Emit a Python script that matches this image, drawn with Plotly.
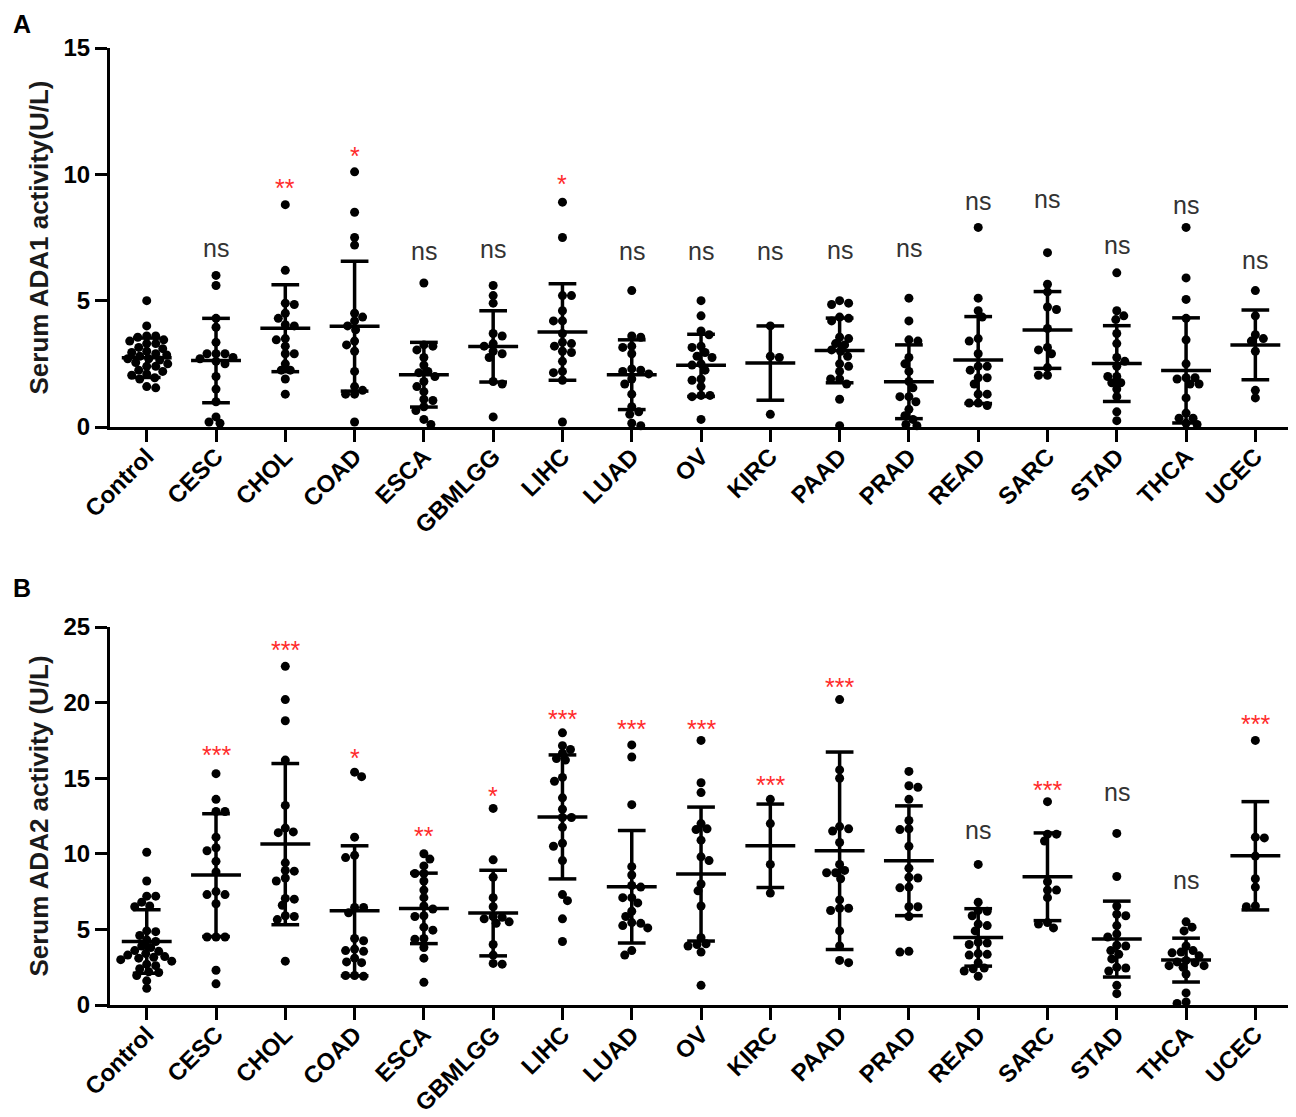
import plotly.graph_objects as go

categories = ["Control", "CESC", "CHOL", "COAD", "ESCA", "GBMLGG", "LIHC", "LUAD", "OV",
              "KIRC", "PAAD", "PRAD", "READ", "SARC", "STAD", "THCA", "UCEC"]

# ---- panel A: serum ADA1 activity (U/L) ----
a_control = [5.0, 4.0, 3.6, 3.6, 3.55, 3.45, 3.4, 3.3, 3.3, 3.15, 3.1, 3.0, 2.95, 2.9, 2.85, 2.8,
             2.7, 2.7, 2.65, 2.55, 2.5, 2.4, 2.4, 2.25, 2.2, 2.1, 2.05, 1.95, 1.9, 1.6, 1.55]
a_cesc = [6.0, 5.6, 4.3, 3.95, 3.35, 2.9, 2.9, 2.9, 2.75, 2.7, 2.6, 2.5, 2.0, 1.5, 1.0, 0.4, 0.2, 0.15]
a_chol = [8.8, 6.2, 4.9, 4.85, 4.5, 4.3, 4.05, 4.0, 3.5, 3.45, 3.2, 2.9, 2.9, 2.5, 2.25, 2.25, 1.9, 1.3]
a_coad = [10.1, 8.5, 7.5, 7.2, 4.5, 4.35, 4.2, 4.0, 3.85, 3.4, 3.25, 3.0, 2.2, 1.6, 1.45, 1.3, 1.3, 0.2]
a_esca = [5.7, 3.25, 3.2, 3.05, 2.75, 2.45, 2.2, 2.15, 2.0, 1.8, 1.6, 1.4, 1.1, 1.05, 0.8, 0.65, 0.3, 0.1]
a_gbmlgg = [5.6, 5.2, 4.9, 3.7, 3.6, 3.3, 3.2, 3.0, 2.9, 2.75, 1.8, 1.7, 0.4]
a_lihc = [8.9, 7.5, 5.2, 5.2, 4.6, 4.2, 4.2, 3.7, 3.35, 3.3, 3.2, 3.0, 2.95, 2.6, 2.2, 2.15, 1.85, 0.2]
a_luad = [5.4, 3.6, 3.55, 3.2, 3.15, 2.9, 2.3, 2.25, 2.2, 2.1, 1.9, 1.7, 1.3, 0.8, 0.6, 0.5, 0.15, 0.05]
a_ov = [5.0, 4.4, 3.8, 3.65, 3.2, 3.15, 2.95, 2.8, 2.75, 2.5, 2.45, 2.25, 1.9, 1.85, 1.6, 1.25, 1.25, 1.2, 0.3]
a_kirc = [4.0, 2.8, 2.75, 0.5]
a_paad = [5.0, 4.9, 4.85, 4.35, 4.3, 4.2, 3.55, 3.5, 3.3, 3.25, 3.05, 3.0, 2.8, 2.5, 2.4, 2.2, 1.9, 1.9,
          1.7, 1.1, 0.05]
a_prad = [5.1, 4.2, 3.45, 3.4, 2.75, 2.5, 2.2, 1.8, 1.55, 1.2, 1.2, 1.0, 0.7, 0.45, 0.3, 0.1, 0.05]
a_read = [7.9, 5.1, 4.6, 4.35, 3.5, 3.4, 2.9, 2.4, 2.4, 2.25, 1.95, 1.95, 1.7, 1.3, 1.3, 0.95, 0.95, 0.85]
a_sarc = [6.9, 5.65, 5.35, 4.75, 4.65, 3.9, 3.15, 3.05, 2.9, 2.35, 2.05, 2.05]
a_stad = [6.1, 4.6, 4.4, 4.25, 3.7, 3.3, 2.75, 2.6, 2.4, 2.0, 2.0, 1.75, 1.75, 1.5, 1.2, 0.6, 0.25]
a_thca = [7.9, 5.9, 5.05, 4.3, 3.45, 2.5, 1.95, 1.95, 1.9, 1.7, 1.7, 1.15, 0.55, 0.35, 0.35, 0.15, 0.1]
a_ucec = [5.4, 4.4, 3.65, 3.5, 3.4, 3.0, 1.45, 1.15]

a_mean = [2.74, 2.63, 3.91, 3.99, 2.07, 3.19, 3.76, 2.07, 2.44, 2.53, 3.03, 1.79, 2.65, 3.84, 2.51, 2.24, 3.25]
a_sd = [0.78, 1.67, 1.72, 2.57, 1.28, 1.41, 1.91, 1.38, 1.23, 1.47, 1.28, 1.46, 1.72, 1.52, 1.50, 2.08, 1.38]
a_sig = ["", "ns", "**", "*", "ns", "ns", "*", "ns", "ns", "ns", "ns", "ns", "ns", "ns", "ns", "ns", "ns"]
a_sig_y = [None, 7.0, 9.62, 10.9, 6.87, 6.96, 9.77, 6.9, 6.9, 6.9, 6.94, 7.0, 8.88, 8.94, 7.14, 8.72, 6.52]

# ---- panel B: serum ADA2 activity (U/L) ----
b_control = [10.1, 8.2, 7.2, 7.2, 6.8, 6.55, 6.5, 4.9, 4.85, 4.6, 4.3, 4.2, 3.9, 3.8, 3.6, 3.55, 3.4,
             3.3, 3.2, 3.15, 3.1, 3.0, 2.9, 2.7, 2.6, 2.4, 2.2, 2.15, 1.95, 1.6, 1.1]
b_cesc = [15.3, 13.6, 12.8, 12.8, 11.1, 10.4, 10.2, 9.5, 8.8, 7.5, 7.3, 7.3, 6.7, 4.5, 4.5, 4.5, 2.3, 1.4]
b_chol = [22.4, 20.2, 18.8, 16.2, 13.2, 11.7, 11.45, 11.4, 9.4, 8.9, 8.85, 8.4, 8.2, 7.05, 7.0, 6.6,
          5.9, 5.85, 5.65, 2.9]
b_coad = [15.4, 15.1, 11.1, 9.9, 9.75, 6.45, 6.45, 6.1, 4.4, 4.25, 3.7, 3.6, 3.55, 3.1, 2.85, 2.8,
          1.95, 1.95, 1.9]
b_esca = [10.0, 9.65, 9.2, 8.7, 8.7, 8.2, 7.6, 7.1, 6.55, 6.35, 5.9, 5.85, 5.15, 4.95, 4.4, 4.35,
          3.8, 3.1, 1.5]
b_gbmlgg = [13.0, 9.6, 8.45, 7.1, 6.5, 5.85, 5.8, 5.7, 5.5, 5.4, 4.0, 3.3, 2.75, 2.7]
b_lihc = [18.0, 17.15, 16.9, 16.65, 16.3, 16.2, 15.05, 14.8, 13.7, 12.95, 12.4, 12.4, 11.75, 10.7,
          10.5, 9.55, 7.3, 6.9, 5.7, 4.2]
b_luad = [17.2, 16.4, 13.25, 9.15, 8.6, 7.9, 7.8, 7.1, 7.1, 6.75, 6.2, 5.85, 5.45, 5.4, 5.25, 5.1, 3.6, 3.3]
b_ov = [17.5, 14.7, 14.05, 12.0, 11.65, 11.6, 10.9, 9.8, 9.55, 8.0, 7.55, 6.55, 4.45, 4.05, 4.0, 3.9,
        3.5, 1.3]
b_kirc = [13.6, 12.0, 9.3, 7.4]
b_paad = [20.2, 15.55, 15.0, 11.8, 11.65, 11.5, 10.75, 9.3, 8.9, 8.75, 8.75, 8.35, 6.95, 6.4, 6.4,
          6.25, 4.9, 3.9, 2.95, 2.8]
b_prad = [15.45, 14.5, 14.4, 13.6, 12.2, 11.65, 11.6, 10.5, 9.05, 8.45, 8.4, 7.8, 7.75, 6.5, 6.5,
          5.85, 3.55, 3.5]
b_read = [9.3, 6.8, 6.25, 6.2, 5.9, 5.35, 5.25, 4.9, 4.15, 4.1, 4.0, 3.4, 3.35, 3.3, 2.8, 2.45, 2.4,
          2.25, 1.9]
b_sarc = [13.45, 11.3, 11.3, 10.85, 8.15, 7.6, 7.6, 7.1, 5.45, 5.35, 5.1]
b_stad = [11.35, 8.5, 6.55, 6.0, 5.9, 5.25, 4.7, 4.5, 3.95, 3.9, 3.6, 3.35, 3.05, 2.5, 2.45, 2.25, 1.3, 0.75]
b_thca = [5.5, 5.15, 4.9, 3.9, 3.6, 3.5, 3.45, 3.25, 2.95, 2.85, 2.8, 2.6, 2.6, 2.5, 2.05, 0.8, 0.2, 0.1]
b_ucec = [17.5, 11.1, 11.05, 9.85, 8.35, 7.8, 6.55, 6.5]

b_mean = [4.2, 8.59, 10.64, 6.23, 6.39, 6.08, 12.44, 7.82, 8.66, 10.53, 10.2, 9.54, 4.47, 8.48, 4.36, 2.97, 9.87]
b_sd = [2.1, 4.06, 5.33, 4.3, 2.33, 2.83, 4.1, 3.72, 4.43, 2.76, 6.53, 3.63, 1.9, 2.9, 2.51, 1.45, 3.58]
b_sig = ["", "***", "***", "*", "**", "*", "***", "***", "***", "***", "***", "", "ns", "***", "ns", "ns", "***"]
b_sig_y = [None, 16.8, 23.72, 16.63, 11.46, 14.1, 19.2, 18.53, 18.53, 14.83, 21.3, None, 11.42, 14.5,
           13.96, 8.12, 18.85]

ada1 = [a_control, a_cesc, a_chol, a_coad, a_esca, a_gbmlgg, a_lihc, a_luad, a_ov, a_kirc, a_paad,
        a_prad, a_read, a_sarc, a_stad, a_thca, a_ucec]
ada2 = [b_control, b_cesc, b_chol, b_coad, b_esca, b_gbmlgg, b_lihc, b_luad, b_ov, b_kirc, b_paad,
        b_prad, b_read, b_sarc, b_stad, b_thca, b_ucec]

# the page body has an 8px margin, so the figure is drawn 8px in from the window corner
OFF = 8
W, H = 1296 - OFF, 1117 - OFF
X0, X1 = 110 - OFF, 1290 - OFF      # plot area left/right in figure px
XRANGE = [-0.53, 16.5]
PX_PER_X = (X1 - X0) / (XRANGE[1] - XRANGE[0])
DOT = 9
FONT = "Arial, Liberation Sans, sans-serif"


def swarm(vals, px_per_y, gx=9.0, gy=7.0):
    """simple beeswarm: push each dot sideways until it does not overlap the ones already placed"""
    order = sorted(range(len(vals)), key=lambda i: -vals[i])
    placed = []
    offs = [0.0] * len(vals)
    cands = [0]
    for k in range(1, 60):
        cands += [k, -k]
    flip = False
    for i in order:
        y = vals[i] * px_per_y
        for c in cands:
            c = -c if flip else c
            if all(((c - px) / gx) ** 2 + ((y - py) / gy) ** 2 >= 1 for px, py in placed):
                break
        if c != 0:
            flip = not flip
        placed.append((c, y))
        offs[i] = c / PX_PER_X
    return offs


fig = go.Figure()


def add_panel(groups, means, sds, sig, sig_y, xa, ya, ytop, px_top, px_bot):
    px_per_y = (px_bot - px_top) / ytop
    xs, ys = [], []
    for i, vals in enumerate(groups):
        offs = swarm(vals, px_per_y)
        xs += [i + o for o in offs]
        ys += vals
    fig.add_trace(go.Scatter(x=xs, y=ys, mode="markers", xaxis=xa, yaxis=ya, cliponaxis=False,
                             marker=dict(size=DOT, color="black"), showlegend=False, hoverinfo="y"))

    # mean +/- SD bars
    lx, ly = [], []
    for i, (m, s) in enumerate(zip(means, sds)):
        lo, hi = max(m - s, 0), m + s
        lx += [i, i, None, i - 0.2, i + 0.2, None, i - 0.2, i + 0.2, None, i - 0.36, i + 0.36, None]
        ly += [lo, hi, None, hi, hi, None, lo, lo, None, m, m, None]
    fig.add_trace(go.Scatter(x=lx, y=ly, mode="lines", xaxis=xa, yaxis=ya, cliponaxis=False,
                             line=dict(color="black", width=3.5), showlegend=False, hoverinfo="skip"))

    for i, (t, yy) in enumerate(zip(sig, sig_y)):
        if not t:
            continue
        star = t != "ns"
        fig.add_annotation(x=i, y=yy, xref=xa, yref=ya, text=t, showarrow=False,
                           yanchor="middle", yshift=-4 if star else 2,
                           font=dict(family=FONT, size=25,
                                     color="#ff2b2b" if star else "#333333"))


add_panel(ada1, a_mean, a_sd, a_sig, a_sig_y, "x", "y", 15, 48, 427)
add_panel(ada2, b_mean, b_sd, b_sig, b_sig_y, "x2", "y2", 25, 627, 1005)

xdom = [X0 / W, min(X1 / W, 1.0)]
axis_common = dict(showline=True, linewidth=3, linecolor="black", ticks="outside", ticklen=12,
                   tickwidth=3, tickcolor="black", showgrid=False, zeroline=False, automargin=False)
xaxis = dict(axis_common, domain=xdom, range=XRANGE, tickmode="array",
             tickvals=list(range(len(categories))), ticktext=categories, tickangle=-45,
             ticklabelstandoff=-9,
             tickfont=dict(family=FONT, size=24, color="black", weight="bold"))
ytitle_font = dict(family=FONT, size=26, color="#1a1a1a", weight="bold")
ytick_font = dict(family=FONT, size=24, color="black", weight="bold")


def ydom(top, bot):
    return [1 - (bot - OFF) / H, 1 - (top - OFF) / H]


fig.update_layout(
    width=W, height=H,
    margin=dict(l=0, r=0, t=0, b=0),
    paper_bgcolor="white", plot_bgcolor="white",
    xaxis=dict(xaxis, anchor="y"),
    xaxis2=dict(xaxis, anchor="y2"),
    yaxis=dict(axis_common, domain=ydom(48, 427), range=[0, 15], tickvals=[0, 5, 10, 15],
               tickfont=ytick_font, anchor="x",
               title=dict(text="Serum ADA1 activity(U/L)", font=ytitle_font, standoff=8)),
    yaxis2=dict(axis_common, domain=ydom(627, 1005), range=[0, 25],
                tickvals=[0, 5, 10, 15, 20, 25], tickfont=ytick_font, anchor="x2",
                title=dict(text="Serum ADA2 activity (U/L)", font=ytitle_font, standoff=8)),
)

# panel letters
fig.add_annotation(x=0.002, y=1, xref="paper", yref="paper", text="<b>A</b>", showarrow=False,
                   xanchor="left", yanchor="top", font=dict(family=FONT, size=25, color="black"))
fig.add_annotation(x=0.002, y=1 - (588 - OFF) / H, xref="paper", yref="paper", text="<b>B</b>",
                   showarrow=False, xanchor="left", yanchor="middle",
                   font=dict(family=FONT, size=25, color="black"))

fig.write_html("out.html")
